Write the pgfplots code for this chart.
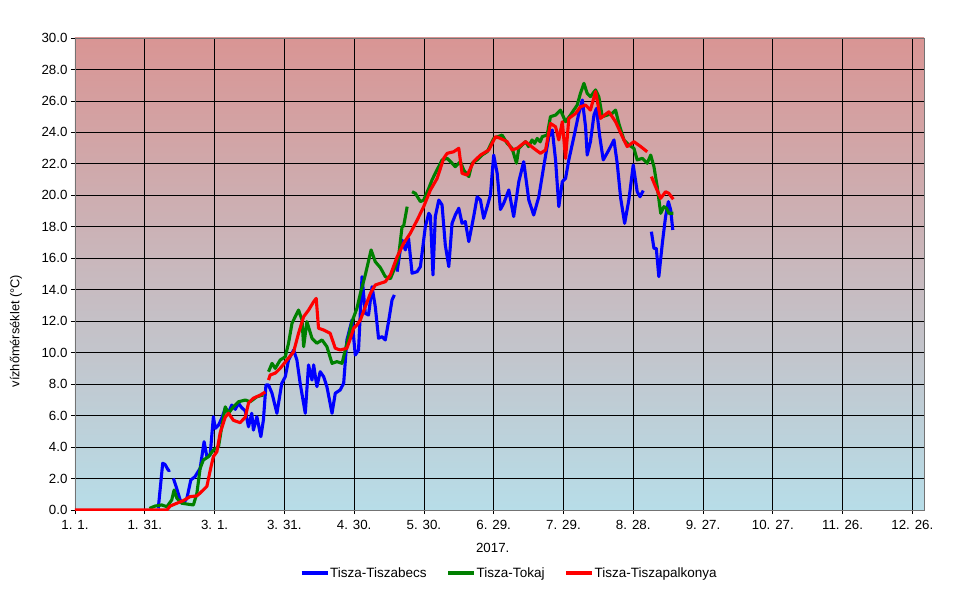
\documentclass[border=0pt]{standalone}
\usepackage{fontspec}
\setmainfont{Liberation Sans}
\usepackage{pgfplots}
\pgfplotsset{compat=1.18}
\usepackage{pgfplotstable}
\usetikzlibrary{calc}
\definecolor{topc}{RGB}{217,149,148}
\definecolor{botc}{RGB}{183,221,232}
\definecolor{sblue}{RGB}{0,0,255}
\definecolor{sgreen}{RGB}{0,128,0}
\definecolor{sred}{RGB}{255,0,0}

\pgfplotstableread{
d v
35.8 0.1
37.7 2.97
38.7 2.9
40.2 2.5
40.9 2.54
41.5 nan
42.3 2.01
43.5 1.48
45.2 0.64
46.6 0.43
48.1 0.74
49.8 1.91
51.6 2.12
53.8 2.65
55.5 4.34
56.7 3.39
58.1 3.5
59.5 5.93
60.3 5.19
61.7 5.4
63.1 5.83
64.6 6.46
66.0 6.2
67.4 6.67
68.9 6.4
70.3 6.78
71.7 6.5
73.2 6.3
74.6 5.29
76.0 6.15
76.7 5.08
78.2 5.93
79.9 4.66
81.0 5.72
82.1 7.95
83.2 7.95
84.7 7.42
86.8 6.15
88.9 8.05
90.4 8.47
91.8 9.53
94.0 10.17
95.4 9.53
96.8 8.05
99.0 6.15
100.4 9.22
101.9 8.26
102.6 9.22
104.0 7.84
105.4 8.79
106.9 8.47
108.3 7.84
110.5 6.15
111.9 7.42
114.0 7.63
115.5 8.05
116.9 10.81
119.1 12.08
120.5 9.85
121.9 10.17
123.4 14.83
124.8 12.5
126.2 12.39
127.7 14.19
129.1 12.92
130.5 10.91
132.0 11.02
133.4 10.81
134.8 11.97
136.3 13.35
137.3 13.67
137.9 nan
138.5 15.15
139.6 16.3
140.6 17.16
142.0 16.53
143.4 17.27
144.9 15.05
147.1 15.15
148.5 15.47
150.6 18.0
152.1 18.86
152.8 18.7
153.9 14.94
154.9 18.65
156.4 19.7
157.8 19.39
159.2 16.84
160.7 15.47
162.1 18.22
163.5 18.75
165.0 19.18
166.4 18.22
167.8 18.33
169.3 17.06
171.4 18.65
172.9 19.91
174.3 19.7
175.7 18.54
177.2 19.28
178.6 20.02
180.0 22.56
181.5 21.4
182.9 19.1
184.3 19.49
186.5 20.34
188.6 18.65
190.8 20.87
192.9 22.14
195.1 19.7
197.2 18.75
199.4 19.91
201.5 21.82
203.7 23.73
205.2 24.15
206.6 22.25
208.0 19.28
209.5 20.87
210.9 21.08
212.3 22.25
214.5 23.73
216.6 25.21
218.1 26.06
219.5 24.36
220.2 22.56
221.6 23.41
223.1 25.1
224.2 25.53
225.6 23.73
227.1 22.25
229.5 22.88
231.7 23.52
233.1 22.04
234.6 19.81
236.3 18.22
238.1 19.7
240.0 21.93
241.7 20.23
242.9 19.91
244.3 20.3
246.0 nan
247.8 17.69
248.9 16.63
249.9 16.63
251.0 14.83
252.5 16.95
253.9 18.65
255.1 19.6
256.1 19.07
257.0 17.8
}\blue

\pgfplotstableread{
d v
32.0 0.1
34.4 0.25
37.3 0.32
39.5 0.21
41.6 0.64
42.6 1.27
43.8 0.74
45.9 0.43
48.1 0.38
50.9 0.32
52.4 1.06
53.8 2.65
55.2 3.18
57.4 3.39
59.5 3.81
61.7 4.02
63.1 5.29
64.6 6.56
66.0 6.15
68.1 6.56
70.3 6.88
73.2 6.99
75.3 6.88
78.2 7.2
81.0 7.31
82.2 nan
83.2 8.79
84.7 9.32
86.1 9.0
88.2 9.53
90.4 9.74
91.8 10.6
93.3 11.87
96.1 12.71
97.6 12.08
98.3 10.38
99.7 11.97
101.9 10.91
104.0 10.6
106.2 10.81
108.3 10.38
110.5 9.32
112.6 9.43
114.8 9.32
116.9 10.6
119.1 11.97
121.2 12.82
122.7 13.77
124.8 14.94
127.3 16.53
129.1 15.78
131.3 15.4
133.4 14.83
135.6 14.7
137.7 15.47
139.1 16.1
140.6 18.0
141.3 18.05
142.8 19.28
143.8 nan
144.9 20.23
146.3 20.13
148.5 19.6
149.9 19.7
152.1 20.45
153.5 20.98
154.9 21.4
157.8 22.25
160.0 22.35
162.1 22.04
163.5 21.82
165.7 22.14
167.1 21.61
169.3 21.19
170.7 22.04
172.9 22.25
175.0 22.56
177.2 22.77
180.0 23.62
183.6 23.83
185.8 23.3
187.9 22.99
189.8 22.04
190.8 22.99
192.2 23.2
193.7 23.41
195.0 23.1
196.5 23.52
197.6 23.3
198.7 23.62
200.0 23.4
200.9 23.73
203.0 23.83
204.4 25.0
206.6 25.1
208.7 25.42
210.9 24.68
213.0 25.1
215.9 25.74
217.3 26.48
218.8 27.12
220.2 26.48
221.6 26.27
223.8 26.7
225.2 26.27
226.7 25.0
228.8 25.1
231.0 25.21
232.4 25.42
233.8 24.57
236.0 23.52
238.1 23.2
240.3 22.99
241.7 22.25
243.9 22.35
246.0 22.04
247.5 22.56
248.9 21.82
250.3 20.55
251.8 18.86
253.2 19.28
254.3 19.18
255.3 18.86
257.2 18.86
}\green

\pgfplotstableread{
d v
0 0
39.5 0
40.9 0.25
43.8 0.43
46.6 0.6
49.5 0.85
52.4 0.9
53.8 1.08
56.7 1.5
58.1 2.5
59.5 3.4
61.0 3.7
62.4 4.9
64.6 5.9
66.0 6.15
68.1 5.7
71.0 5.55
73.2 5.9
74.6 6.8
76.6 7.1
79.6 7.3
81.8 7.5
82.5 nan
83.2 8.26
83.9 8.58
86.1 8.7
88.2 9.0
91.1 9.53
94.0 10.06
96.1 11.23
98.3 12.29
100.4 12.7
102.6 13.24
103.7 13.45
104.7 11.55
106.9 11.44
109.7 11.23
111.9 10.28
114.0 10.17
116.9 10.28
118.4 10.9
119.8 11.55
121.2 11.76
122.7 12.08
124.8 12.92
127.0 13.77
129.1 14.3
131.3 14.41
133.4 14.51
135.6 14.94
138.5 16.1
141.3 16.95
144.2 17.6
147.1 18.43
149.9 19.28
152.8 20.34
155.7 21.08
158.5 22.35
160.0 22.67
162.8 22.77
165.0 22.99
166.4 21.4
168.6 21.29
171.4 22.14
174.3 22.56
177.9 22.88
180.8 23.73
182.9 23.62
185.8 23.41
187.9 22.88
190.1 22.99
193.7 23.41
197.2 22.99
200.1 22.67
202.3 22.88
204.4 24.57
206.6 24.36
208.0 23.52
209.5 24.68
210.9 22.35
212.3 24.89
215.2 25.2
217.3 25.63
219.5 25.74
221.6 25.42
223.8 26.6
225.9 24.89
229.5 25.31
232.4 24.68
235.3 23.73
237.4 23.1
240.3 23.41
243.2 23.1
246.0 22.77
246.9 nan
247.8 21.19
249.6 20.55
251.8 19.81
253.9 20.23
255.3 20.13
257.2 19.75
}\red

\begin{document}
\begin{tikzpicture}
\begin{axis}[
  name=ax,
  at={(0,0)}, anchor=south west,
  scale only axis,
  width=849bp, height=472bp,
  xmin=0, xmax=365, ymin=0, ymax=30,
  xtick={0,30,...,360},
  xticklabels={1. 1.,1. 31.,3. 1.,3. 31.,4. 30.,5. 30.,6. 29.,7. 29.,8. 28.,9. 27.,10. 27.,11. 26.,12. 26.},
  ytick={0,2,...,30},
  xtick pos=bottom, ytick pos=left,
  tick align=outside,
  major tick length=4bp,
  tick style={black, line width=0.8bp},
  grid=major,
  grid style={black, line width=0.8bp},
  axis line style={draw=black!55, line width=0.8bp},
  /pgf/number format/assume math mode=true,
  yticklabel style={/pgf/number format/.cd, fixed, fixed zerofill, precision=1},
  xticklabel style={yshift=-3bp},
  tick label style={font=\fontsize{13.3bp}{15bp}\selectfont, text=black},
  axis background/.style={shade, top color=topc, bottom color=botc},
  unbounded coords=jump,
  xlabel={2017.},
  xlabel style={at={(axis description cs:0.492,-0.0805)}, anchor=center, font=\fontsize{13.3bp}{15bp}\selectfont},
  ylabel={vízhőmérséklet (°C)},
  ylabel style={at={(axis description cs:-0.0695,0.379)}, anchor=center, rotate=0, font=\fontsize{12.8bp}{14bp}\selectfont},
  legend columns=3,
  legend image code/.code={\draw[#1] (0bp,0bp) -- (26bp,0bp);},
  legend style={at={(axis description cs:0.511,-0.1335)}, anchor=center, draw=none, fill=none,
    font=\fontsize{13.5bp}{15bp}\selectfont,
    /tikz/every even column/.append style={column sep=19bp},
    nodes={inner xsep=1bp}},
  every axis plot/.append style={line width=3.1bp, line join=round, no markers},
]
\addplot[sblue] table[x=d,y=v] {\blue};
\addlegendentry{Tisza-Tiszabecs}
\addplot[sgreen] table[x=d,y=v] {\green};
\addlegendentry{Tisza-Tokaj}
\addplot[sred] table[x=d,y=v] {\red};
\addlegendentry{Tisza-Tiszapalkonya}
\end{axis}
\pgfresetboundingbox
\path[use as bounding box] ($(ax.south west)+(-75bp,-79bp)$) rectangle ($(ax.north east)+(43bp,38bp)$);
\end{tikzpicture}
\end{document}
